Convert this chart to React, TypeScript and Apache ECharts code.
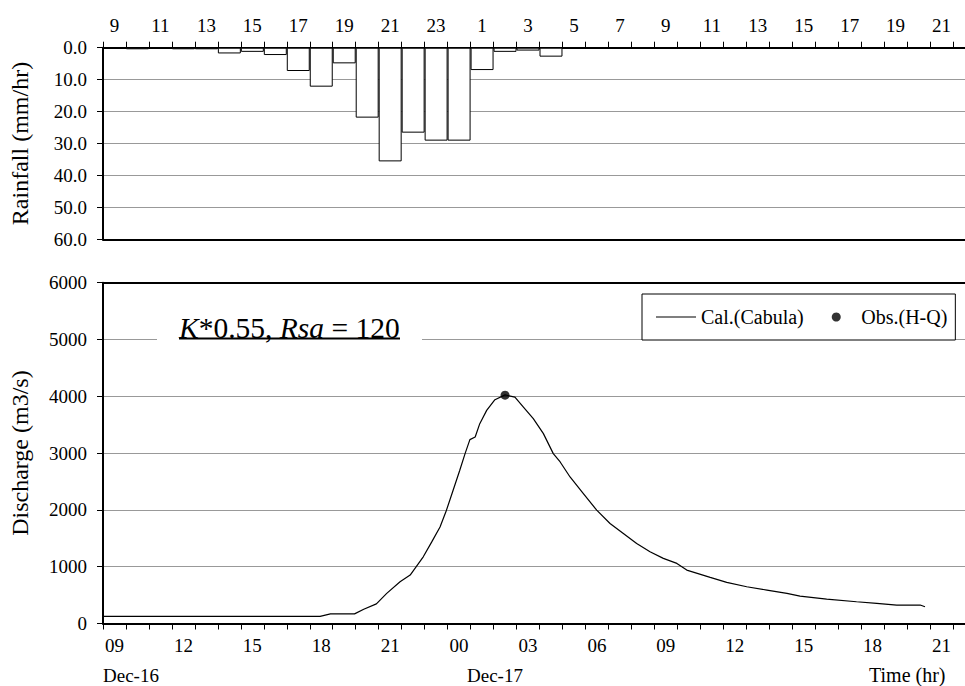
import React, { useEffect, useRef } from 'react';
import * as echarts from 'echarts';

const FONT = 'Liberation Serif';

// Hour-of-day for each hourly interval, starting 09:00 Dec-16
const hourCategories = [
  9, 10, 11, 12, 13, 14, 15, 16, 17, 18, 19, 20, 21, 22, 23,
  0, 1, 2, 3, 4, 5, 6, 7, 8, 9, 10, 11, 12, 13, 14, 15, 16, 17, 18, 19, 20, 21, 22,
];

// Hourly rainfall (mm/hr)
const rainfall = [
  0, 0.5, 0, 0.5, 0.5, 1.8, 1.3, 2.3, 7.3, 12.2, 4.9, 21.9, 35.6, 26.6, 29.1,
  29.1, 7.0, 1.3, 0.9, 2.8, 0, 0, 0, 0, 0, 0, 0, 0, 0, 0, 0, 0, 0, 0, 0, 0, 0, 0,
];

// Calculated discharge: time in hours after 09:00 Dec-16, discharge in m3/s
const calTime = [
  -0.5, 8.95, 9.4, 10.45, 10.85, 11.4, 11.85, 12.43, 12.87, 13.44, 13.81, 14.17, 14.45,
  14.74, 15.03, 15.26, 15.47, 15.7, 15.9, 16.2, 16.56, 17.0, 17.43, 17.8, 18.23, 18.67,
  19.1, 19.4, 19.83, 20.41, 20.99, 21.57, 22.15, 22.73, 23.31, 23.89, 24.48, 24.91,
  25.93, 26.65, 27.52, 28.4, 29.27, 29.84, 31.0, 32.3, 33.18, 34.05, 35.07, 35.28,
];
const calQ = [
  125, 125, 170, 170, 250, 345, 530, 735, 852, 1174, 1437, 1700, 1995,
  2346, 2698, 2991, 3237, 3283, 3518, 3752, 3940, 4025, 3986, 3810, 3606, 3343,
  2991, 2844, 2580, 2288, 1995, 1761, 1585, 1409, 1262, 1146, 1058, 940,
  812, 724, 647, 589, 531, 483, 430, 383, 355, 325, 325, 295,
];

// Observed discharge (H-Q)
const obsTime = [17.0];
const obsQ = [4020];

const rainTicks = { min: 0, max: 60, interval: 10 };
const flowTicks = { min: 0, max: 6000, interval: 1000 };

const pad2 = (h: number) => (h < 10 ? '0' + h : String(h));

export default function App() {
  const ref = useRef<HTMLDivElement>(null);

  useEffect(() => {
    if (!ref.current) return;
    const chart = echarts.init(ref.current, undefined, { renderer: 'svg' });

    const axisLine = { show: true, onZero: false, lineStyle: { color: '#000', width: 2 } };
    const tick = { show: true, length: 6, inside: false, lineStyle: { color: '#000', width: 1 } };
    const label = { color: '#000', fontFamily: FONT, fontSize: 19 };
    const split = { show: true, lineStyle: { color: '#999', width: 1 } };
    const gridW = 873;

    const option: any = {
      animation: false,
      textStyle: { fontFamily: FONT, color: '#000' },
      grid: [
        { left: 103, width: gridW, top: 47.7, height: 191.6, outerBoundsMode: 'none', containLabel: false },
        { left: 103, width: gridW, top: 282.7, height: 340.8, outerBoundsMode: 'none', containLabel: false },
      ],
      xAxis: [
        {
          gridIndex: 0, type: 'category', data: hourCategories.map(String), position: 'top',
          boundaryGap: true, axisLine,
          axisTick: { ...tick, interval: 0 },
          axisLabel: { ...label, interval: 1, margin: 13, formatter: (v: string) => String(Number(v)) },
          splitLine: { show: false },
        },
        {
          gridIndex: 0, type: 'category', data: hourCategories.map(String), position: 'bottom',
          boundaryGap: true, axisLine, axisTick: { show: false }, axisLabel: { show: false },
          splitLine: { show: false },
        },
        {
          gridIndex: 1, type: 'category', data: hourCategories.map(String), position: 'bottom',
          boundaryGap: true, axisLine,
          axisTick: { ...tick, interval: 0 },
          axisLabel: { ...label, interval: 2, margin: 12, formatter: (v: string) => pad2(Number(v)) },
          splitLine: { show: false },
        },
        {
          gridIndex: 1, type: 'value', position: 'top', min: -0.5, max: hourCategories.length - 0.5,
          axisLine, axisTick: { show: false }, axisLabel: { show: false }, splitLine: { show: false },
        },
      ],
      yAxis: [
        {
          gridIndex: 0, type: 'value', inverse: true, ...rainTicks,
          axisLine, axisTick: tick,
          axisLabel: { ...label, margin: 16, formatter: (v: number) => v.toFixed(1) },
          splitLine: split,
          name: 'Rainfall (mm/hr)', nameLocation: 'middle', nameGap: 71, nameRotate: 90,
          nameTextStyle: { fontFamily: FONT, fontSize: 24, color: '#000' },
        },
        {
          gridIndex: 1, type: 'value', ...flowTicks,
          axisLine, axisTick: tick,
          axisLabel: { ...label, margin: 16, formatter: (v: number) => String(v) },
          splitLine: split,
          name: 'Discharge (m3/s)', nameLocation: 'middle', nameGap: 71, nameRotate: 90,
          nameTextStyle: { fontFamily: FONT, fontSize: 24, color: '#000' },
        },
      ],
      legend: {
        left: 642, top: 294,
        padding: [13, 8, 13, 14],
        itemGap: 28, itemWidth: 40, itemHeight: 9,
        borderColor: '#000', borderWidth: 1, borderRadius: 0, backgroundColor: '#fff',
        textStyle: { fontFamily: FONT, fontSize: 20, color: '#000' },
        selectedMode: false,
        data: [
          { name: 'Cal.(Cabula)', icon: 'path://M0,0H40V1H0Z' },
          { name: 'Obs.(H-Q)', icon: 'circle' },
        ],
        z: 20,
      },
      series: [
        {
          type: 'bar', xAxisIndex: 0, yAxisIndex: 0,
          data: rainfall.map((v) => (v > 0 ? v : null)),
          barCategoryGap: '0%',
          itemStyle: { color: '#fff', borderColor: '#000', borderWidth: 1 },
          silent: true,
        },
        {
          name: 'Cal.(Cabula)', type: 'line', xAxisIndex: 3, yAxisIndex: 1,
          data: calTime.map((t, i) => [t, calQ[i]]),
          showSymbol: false, symbol: 'none',
          lineStyle: { color: '#000', width: 1.2 }, itemStyle: { color: '#000' },
          silent: true,
        },
        {
          name: 'Obs.(H-Q)', type: 'scatter', xAxisIndex: 3, yAxisIndex: 1,
          data: obsTime.map((t, i) => [t, obsQ[i]]),
          symbol: 'circle', symbolSize: 9, itemStyle: { color: '#000' }, z: 5,
          silent: true,
        },
      ],
      graphic: [
        { type: 'rect', shape: { x: 157, y: 332, width: 265, height: 14 }, style: { fill: '#fff' }, z: 100, silent: true },
        {
          type: 'text', x: 179, y: 327.7, z: 101, silent: true,
          style: {
            text: '{i|K}{n|*0.55, }{i|Rsa}{n| = 120}', fontFamily: FONT, fontSize: 29.5, fill: '#000',
            verticalAlign: 'middle',
            rich: {
              i: { fontStyle: 'italic', fontFamily: FONT, fontSize: 29.5, fill: '#000' },
              n: { fontFamily: FONT, fontSize: 29.5, fill: '#000' },
            },
          },
        },
        { type: 'line', shape: { x1: 179, y1: 338.5, x2: 400, y2: 338.5 }, style: { stroke: '#000', lineWidth: 1.8 }, z: 101, silent: true },
        { type: 'text', x: 103, y: 675.5, silent: true, style: { text: 'Dec-16', fontFamily: FONT, fontSize: 19, fill: '#000', verticalAlign: 'middle' } },
        { type: 'text', x: 467, y: 675.5, silent: true, style: { text: 'Dec-17', fontFamily: FONT, fontSize: 19, fill: '#000', verticalAlign: 'middle' } },
        { type: 'text', x: 869, y: 675, silent: true, style: { text: 'Time (hr)', fontFamily: FONT, fontSize: 20, fill: '#000', verticalAlign: 'middle' } },
      ],
    };

    chart.setOption(option);
    return () => chart.dispose();
  }, []);

  return (
    <div
      ref={ref}
      style={{ position: 'absolute', left: 0, top: 0, width: 965, height: 686, background: '#fff' }}
    />
  );
}
